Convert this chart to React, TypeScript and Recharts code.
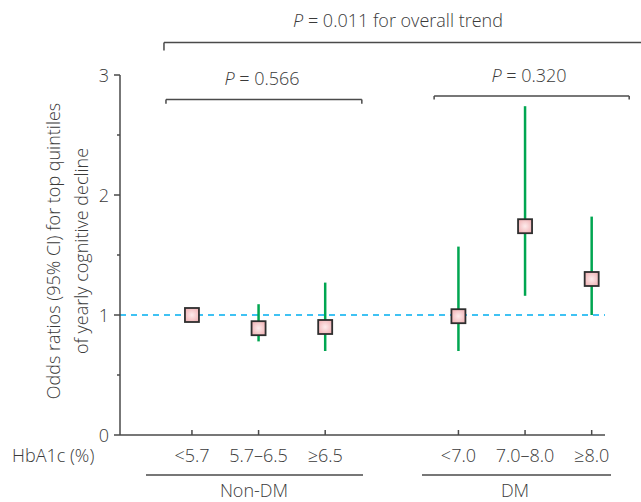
import React from 'react';
import { ComposedChart, Scatter, ErrorBar, XAxis, YAxis, ReferenceLine } from 'recharts';

// HbA1c groups, x slot 4 is left empty as a gap between Non-DM and DM
const CATEGORIES = ['<5.7', '5.7–6.5', '≥6.5', '<7.0', '7.0–8.0', '≥8.0'];
const SLOTS = [1, 2, 3, 5, 6, 7];
const ODDS = [1.0, 0.89, 0.9, 0.99, 1.74, 1.3];
const CI_LOW = [1.0, 0.78, 0.7, 0.7, 1.16, 1.0];
const CI_HIGH = [1.0, 1.09, 1.27, 1.57, 2.74, 1.82];
const Y_TICKS = [0, 0.5, 1, 1.5, 2, 2.5, 3];
const P_OVERALL = '0.011';
const P_NON_DM = '0.566';
const P_DM = '0.320';

const FONT = '"Open Sans", "DejaVu Sans", sans-serif';
const WEIGHT = 300;
const TEXT = '#3a3a3a';
const AXIS = '#4a4a4a';
const GREEN = '#00a651';
const CYAN = '#00aeef';

const data = SLOTS.map((slot, i) => ({
    slot,
    or: ODDS[i],
    err: [ODDS[i] - CI_LOW[i], CI_HIGH[i] - ODDS[i]],
}));

// Bracket annotations, in data coordinates
const brackets = [
    { x1: 0.58, x2: 8.2, y: 3.27, dropLeft: 0.065, dropRight: 0 },
    { x1: 0.61, x2: 3.55, y: 2.795, dropLeft: 0.035, dropRight: 0.035 },
    { x1: 4.635, x2: 7.563, y: 2.825, dropLeft: 0.03, dropRight: 0.03 },
];

const textProps = { fill: TEXT, fontSize: 18, fontFamily: FONT, fontWeight: WEIGHT };

const XTick = (props: any) => {
    const { x, y, payload } = props;
    const i = SLOTS.indexOf(payload.value);
    return (
        <g>
            <line x1={x} x2={x} y1={y} y2={y - 5} stroke={AXIS} strokeWidth={1.5} />
            <text x={x} y={y + 27} textAnchor="middle" {...textProps}>
                {CATEGORIES[i]}
            </text>
        </g>
    );
};

const YTick = (props: any) => {
    const { x, y, payload } = props;
    const major = Number.isInteger(payload.value);
    return (
        <g>
            <line x1={x - (major ? 6 : 3)} x2={x} y1={y} y2={y} stroke={AXIS} strokeWidth={1.5} />
            {major && (
                <text x={x - 11} y={y + 6.5} textAnchor="end" {...textProps}>
                    {payload.value}
                </text>
            )}
        </g>
    );
};

const SquareMark = (props: any) => {
    const { cx, cy, index } = props;
    if (cx == null || cy == null) return null;
    const s = 14;
    const id = `sq-fill-${index}`;
    return (
        <g>
            <defs>
                <radialGradient id={id} cx="50%" cy="50%" r="60%">
                    <stop offset="0%" stopColor="#fdecec" />
                    <stop offset="100%" stopColor="#f0b2b5" />
                </radialGradient>
            </defs>
            <rect x={cx - s / 2} y={cy - s / 2} width={s} height={s} fill={`url(#${id})`} stroke="#2e2e2e" strokeWidth={1.8} />
        </g>
    );
};

const PText = ({ x, y, value, suffix = '' }: { x: number; y: number; value: string; suffix?: string }) => (
    <text x={x} y={y} textAnchor="middle" {...textProps}>
        <tspan fontStyle="italic">P</tspan> = {value}{suffix}
    </text>
);

export default function App() {
    return (
        <div style={{ position: 'absolute', left: 0, top: 0, width: 641, height: 502, background: '#fff' }}>
            <ComposedChart width={641} height={502} margin={{ top: 75, right: 36, bottom: 0, left: 0 }}>
                <XAxis
                    type="number"
                    dataKey="slot"
                    domain={[-0.08, 7.2]}
                    ticks={SLOTS}
                    interval={0}
                    tick={<XTick />}
                    tickSize={0}
                    tickMargin={0}
                    tickLine={false}
                    axisLine={{ stroke: AXIS, strokeWidth: 1.5 }}
                    height={67}
                    allowDataOverflow
                />
                <YAxis
                    type="number"
                    dataKey="or"
                    domain={[0, 3]}
                    ticks={Y_TICKS}
                    interval={0}
                    tick={<YTick />}
                    tickSize={0}
                    tickMargin={0}
                    tickLine={false}
                    axisLine={{ stroke: AXIS, strokeWidth: 1.5 }}
                    width={120}
                    allowDataOverflow
                />
                <ReferenceLine y={1} stroke={CYAN} strokeWidth={1.5} strokeDasharray="6 5" />
                {brackets.map((b, i) => (
                    <ReferenceLine
                        key={`h${i}`}
                        segment={[{ x: b.x1, y: b.y }, { x: b.x2, y: b.y }]}
                        stroke={AXIS}
                        strokeWidth={1.5}
                        ifOverflow="visible"
                    />
                ))}
                {brackets.map((b, i) => (
                    <ReferenceLine
                        key={`l${i}`}
                        segment={[{ x: b.x1, y: b.y }, { x: b.x1, y: b.y - b.dropLeft }]}
                        stroke={AXIS}
                        strokeWidth={1.5}
                        ifOverflow="visible"
                    />
                ))}
                {brackets.filter(b => b.dropRight > 0).map((b, i) => (
                    <ReferenceLine
                        key={`r${i}`}
                        segment={[{ x: b.x2, y: b.y }, { x: b.x2, y: b.y - b.dropRight }]}
                        stroke={AXIS}
                        strokeWidth={1.5}
                        ifOverflow="visible"
                    />
                ))}
                <Scatter data={data} shape={<SquareMark />} isAnimationActive={false}>
                    <ErrorBar dataKey="err" direction="y" width={0} stroke={GREEN} strokeWidth={2.5} isAnimationActive={false} />
                </Scatter>
            </ComposedChart>

            {/* text annotations */}
            <svg width={641} height={502} style={{ position: 'absolute', left: 0, top: 0, pointerEvents: 'none' }}>
                <PText x={398} y={27} value={P_OVERALL} suffix=" for overall trend" />
                <PText x={262} y={85} value={P_NON_DM} />
                <PText x={529} y={82} value={P_DM} />
                <text x={12} y={462} {...textProps}>HbA1c (%)</text>
                <line x1={146} x2={363} y1={475} y2={475} stroke={AXIS} strokeWidth={1.5} />
                <line x1={422} x2={611} y1={475} y2={475} stroke={AXIS} strokeWidth={1.5} />
                <text x={254} y={497} textAnchor="middle" {...textProps}>Non-DM</text>
                <text x={515} y={497} textAnchor="middle" {...textProps}>DM</text>
                <g transform="translate(53 251) rotate(-90)">
                    <text x={0} y={0} textAnchor="middle" dominantBaseline="central" {...textProps}>
                        Odds ratios (95% CI) for top quintiles
                    </text>
                </g>
                <g transform="translate(80.5 251) rotate(-90)">
                    <text x={0} y={0} textAnchor="middle" dominantBaseline="central" {...textProps}>
                        of yearly cognitive decline
                    </text>
                </g>
            </svg>
        </div>
    );
}
